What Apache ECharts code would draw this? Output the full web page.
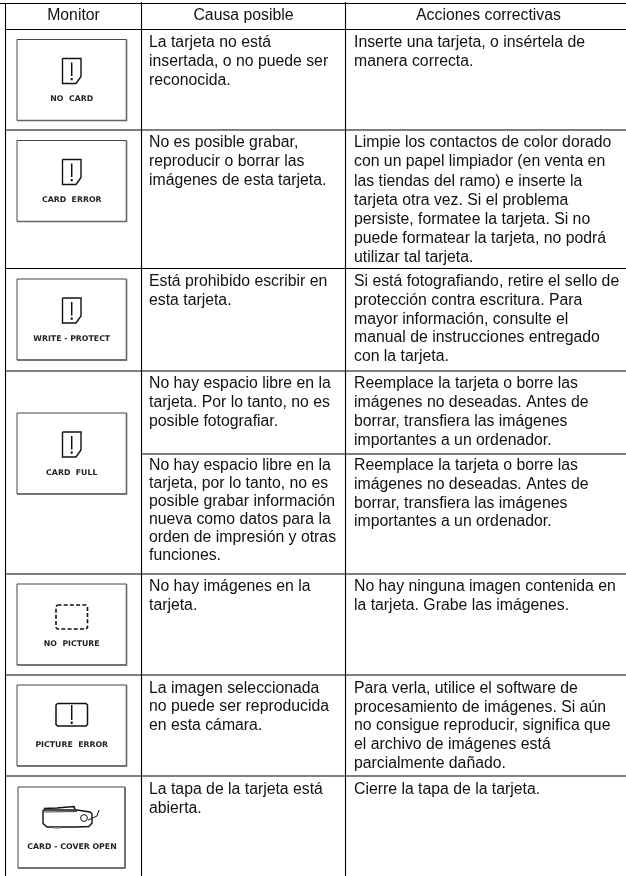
<!DOCTYPE html>
<html>
<head>
<meta charset="utf-8">
<title>Monitor - Causa posible - Acciones correctivas</title>
<script src="https://cdn.jsdelivr.net/npm/echarts@6/dist/echarts.min.js"></script>
<style>
  html, body { margin: 0; padding: 0; background: #fff; }
  #table { width: 626px; height: 876px; }
</style>
</head>
<body>
<div id="table"></div>
<script>
var columnTitles = ['Monitor', 'Causa posible', 'Acciones correctivas'];

// texto de la pantalla e icono de cada recuadro del monitor
var monitorLabels = ['NO  CARD', 'CARD  ERROR', 'WRITE - PROTECT', 'CARD  FULL', 'NO  PICTURE', 'PICTURE  ERROR', 'CARD - COVER OPEN'];
var monitorIcons = ['card', 'card', 'card', 'card', 'dashed', 'wide', 'camera'];

var causes = [
  ['La tarjeta no está', 'insertada, o no puede ser', 'reconocida.'],
  ['No es posible grabar,', 'reproducir o borrar las', 'imágenes de esta tarjeta.'],
  ['Está prohibido escribir en', 'esta tarjeta.'],
  ['No hay espacio libre en la', 'tarjeta. Por lo tanto, no es', 'posible fotografiar.'],
  ['No hay espacio libre en la', 'tarjeta, por lo tanto, no es', 'posible grabar información', 'nueva como datos para la', 'orden de impresión y otras', 'funciones.'],
  ['No hay imágenes en la', 'tarjeta.'],
  ['La imagen seleccionada', 'no puede ser reproducida', 'en esta cámara.'],
  ['La tapa de la tarjeta está', 'abierta.']
];

var actions = [
  ['Inserte una tarjeta, o insértela de', 'manera correcta.'],
  ['Limpie los contactos de color dorado', 'con un papel limpiador (en venta en', 'las tiendas del ramo) e inserte la', 'tarjeta otra vez. Si el problema', 'persiste, formatee la tarjeta. Si no', 'puede formatear la tarjeta, no podrá', 'utilizar tal tarjeta.'],
  ['Si está fotografiando, retire el sello de', 'protección contra escritura. Para', 'mayor información, consulte el', 'manual de instrucciones entregado', 'con la tarjeta.'],
  ['Reemplace la tarjeta o borre las', 'imágenes no deseadas. Antes de', 'borrar, transfiera las imágenes', 'importantes a un ordenador.'],
  ['Reemplace la tarjeta o borre las', 'imágenes no deseadas. Antes de', 'borrar, transfiera las imágenes', 'importantes a un ordenador.'],
  ['No hay ninguna imagen contenida en', 'la tarjeta. Grabe las imágenes.'],
  ['Para verla, utilice el software de', 'procesamiento de imágenes. Si aún', 'no consigue reproducir, significa que', 'el archivo de imágenes está', 'parcialmente dañado.'],
  ['Cierre la tapa de la tarjeta.']
];

/*** geometria de la tabla ***/
var WIDTH = 626, HEIGHT = 876;
var colX = [5.5, 141.5, 345.5];
var colCenter = [73.5, 243.5, 488.5];
var textX = [0, 149, 354];
var tableTop = 3.5, headerBottom = 29.5;
var rowBottoms = [130, 268.5, 371, 454, 574, 675, 776, 876];
var rowTops = [headerBottom].concat(rowBottoms.slice(0, 7));
var boxTops = [39.5, 140.5, 279, 413, 584, 685, 787];
var causeFirst = [13, 13, 13, 12.5, 12, 13, 13.5, 14];
var causeStep = [18.9, 18.9, 18.9, 19, 18, 18.7, 18.5, 18.5];
var actionFirst = [13, 13, 13.5, 12.5, 12, 13, 13.5, 14];
var actionStep = [18.9, 19.1, 18.7, 18.9, 18.7, 19, 18.7, 18.5];
var FONT = '15.8px "Liberation Sans", Arial, sans-serif';
var LABEL_FONT = 'bold 7.8px "DejaVu Sans", sans-serif';

// reglas: [x1, y1, x2, y2]
var rules = [];
rules.push([0, tableTop, WIDTH, tableTop]);
rules.push([colX[0], headerBottom, WIDTH, headerBottom]);
rowBottoms.slice(0, 7).forEach(function (y, i) {
  // la fila 4 y 5 comparten el recuadro del monitor
  rules.push([i === 3 ? colX[1] : colX[0], y, WIDTH, y]);
});
rules.push([colX[0], tableTop, colX[0], HEIGHT]);
rules.push([colX[1], 2, colX[1], HEIGHT]);
rules.push([colX[2], 2, colX[2], HEIGHT]);

// textos: una entrada por linea
var textItems = [];
columnTitles.forEach(function (t, i) {
  textItems.push({ x: colCenter[i], y: 16, text: t, align: 'center' });
});
function addLines(list, col, first, step) {
  list.forEach(function (lines, r) {
    lines.forEach(function (t, l) {
      textItems.push({ x: textX[col], y: rowTops[r] + first[r] + l * step[r], text: t, align: 'left' });
    });
  });
}
addLines(causes, 1, causeFirst, causeStep);
addLines(actions, 2, actionFirst, actionStep);

function pt(api, x, y) {
  return api.coord([x, y]);
}

function iconShape(api, kind, bx, by) {
  var sk = { stroke: '#111', fill: 'none', lineWidth: 1.4 };
  var out = [];
  function path(points, style) {
    out.push({
      type: 'polyline',
      shape: { points: points.map(function (p) { return pt(api, bx + p[0], by + p[1]); }) },
      style: Object.assign({}, sk, style || {})
    });
  }
  if (kind === 'card') {
    path([[45.5, 19], [64, 19], [64, 37], [59, 44], [45.5, 44], [45.5, 19]]);
    path([[54.7, 23], [54.7, 36.5]], { lineWidth: 1.5 });
    path([[54.7, 38.5], [54.7, 40.8]], { lineWidth: 2 });
  } else if (kind === 'wide') {
    path([[40.5, 18.5], [69, 18.5], [70.5, 20], [70.5, 39.5], [69, 41], [40.5, 41], [39, 39.5], [39, 20], [40.5, 18.5]], { lineWidth: 1.5 });
    path([[54.7, 20], [54.7, 35]], { lineWidth: 1.5 });
    path([[54.7, 36.5], [54.7, 39]], { lineWidth: 2 });
  } else if (kind === 'dashed') {
    path([[40.5, 21], [69, 21], [70.5, 22.5], [70.5, 43.5], [69, 45], [40.5, 45], [39, 43.5], [39, 22.5], [40.5, 21]], { lineWidth: 1.6, lineDash: [4, 2.2] });
  } else if (kind === 'camera') {
    // cuerpo de la camara con la tapa abierta
    path([[26, 23], [60, 23], [73, 25], [75, 27], [75, 36], [72, 39.5], [60, 40], [30, 40], [26, 36.5], [26, 23]]);
    path([[27, 21.5], [40, 21], [57, 19.5], [58, 22.5]], { lineWidth: 1.6 });
    path([[27, 25], [60, 24.5]], { lineWidth: 0.8 });
    path([[36, 40.7], [44, 40.7]], { lineWidth: 1.6, stroke: '#777' });
    path([[71, 33], [80, 29], [82, 23]], { lineWidth: 1 });
    var c = pt(api, bx + 67, by + 31);
    out.push({ type: 'circle', shape: { cx: c[0], cy: c[1], r: 3.4 }, style: { stroke: '#111', fill: '#fff', lineWidth: 1 } });
  }
  return out;
}

var option = {
  animation: false,
  grid: { left: 0, right: 0, top: 0, bottom: 0 },
  xAxis: { type: 'value', min: 0, max: WIDTH, show: false },
  yAxis: { type: 'value', min: 0, max: HEIGHT, inverse: true, show: false },
  series: [
    {
      type: 'custom',
      name: 'reglas',
      silent: true,
      clip: false,
      data: rules,
      encode: { x: [0, 2], y: [1, 3] },
      renderItem: function (params, api) {
        var a = api.coord([api.value(0), api.value(1)]);
        var b = api.coord([api.value(2), api.value(3)]);
        return { type: 'line', shape: { x1: a[0], y1: a[1], x2: b[0], y2: b[1] }, style: { stroke: '#000', lineWidth: 1.1 } };
      }
    },
    {
      type: 'custom',
      name: 'monitor',
      silent: true,
      clip: false,
      data: boxTops.map(function (y, i) { return [i === 6 ? 18 : 17, y]; }),
      encode: { x: 0, y: 1 },
      renderItem: function (params, api) {
        var i = params.dataIndex;
        var bx = api.value(0), by = api.value(1);
        var w = i === 6 ? 107 : 109.5, h = 81;
        var tl = pt(api, bx, by), br = pt(api, bx + w, by + h);
        var label = pt(api, bx + w / 2 + (i === 6 ? 0.5 : 0), by + 59.5);
        var kids = [
          { type: 'rect', shape: { x: tl[0], y: tl[1], width: br[0] - tl[0], height: br[1] - tl[1] }, style: { stroke: '#444', fill: '#fff', lineWidth: 1 } },
          { type: 'polyline', shape: { points: [[br[0], tl[1]], [br[0], br[1]], [tl[0], br[1]]] }, style: { stroke: '#666', fill: 'none', lineWidth: 1.6 } },
          { type: 'text', x: label[0], y: label[1], style: { text: monitorLabels[i], font: LABEL_FONT, fill: '#222', align: 'center', verticalAlign: 'middle' } }
        ].concat(iconShape(api, monitorIcons[i], i === 6 ? bx - 1 : bx, by));
        return { type: 'group', children: kids };
      }
    },
    {
      type: 'custom',
      name: 'textos',
      silent: true,
      clip: false,
      data: textItems.map(function (t) { return [t.x, t.y]; }),
      encode: { x: 0, y: 1 },
      renderItem: function (params, api) {
        var t = textItems[params.dataIndex];
        var p = api.coord([api.value(0), api.value(1)]);
        return { type: 'text', x: p[0], y: p[1], style: { text: t.text, font: FONT, fill: '#111', align: t.align, verticalAlign: 'middle' } };
      }
    }
  ]
};

var chart = echarts.init(document.getElementById('table'), null, { renderer: 'canvas' });
chart.setOption(option);
</script>
</body>
</html>
